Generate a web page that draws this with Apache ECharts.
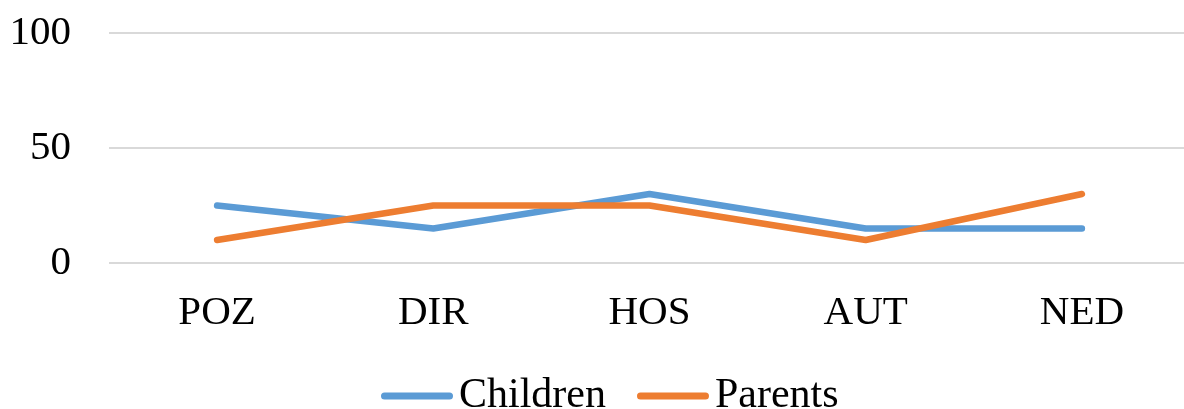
<!DOCTYPE html>
<html>
<head>
<meta charset="utf-8">
<script src="https://cdn.jsdelivr.net/npm/echarts@6/dist/echarts.min.js"></script>
<style>
  html, body { margin: 0; padding: 0; background: #fff; overflow: hidden; }
  /* a bit wider than the window: the plot area runs past the right edge */
  #chart { width: 1200px; height: 409px; }
</style>
</head>
<body>
<div id="chart"></div>
<script>
const categories = ["POZ", "DIR", "HOS", "AUT", "NED"];
const children = [25, 15, 30, 15, 15];
const parents = [10, 25, 25, 10, 30];

const font = "'Liberation Serif', 'Times New Roman', serif";
const capsule = "path://M3.5,0 H68.5 A3.5,3.5 0 0 1 68.5,7 H3.5 A3.5,3.5 0 0 1 3.5,0 Z";

const myChart = echarts.init(document.getElementById("chart"));

myChart.setOption({
  animation: false,
  textStyle: { fontFamily: font },
  grid: { left: 109, top: 33, width: 1081, height: 230 },
  legend: {
    left: 376,
    top: 370,
    itemWidth: 74,
    itemHeight: 7,
    itemGap: 31,
    textStyle: { fontFamily: font, fontSize: 42, color: "#000" },
    data: [
      { name: "Children", icon: capsule },
      { name: "Parents", icon: capsule },
    ],
  },
  xAxis: {
    type: "category",
    data: categories,
    axisLine: { show: false },
    axisTick: { show: false },
    axisLabel: { fontFamily: font, fontSize: 41, color: "#000", margin: 30 },
  },
  yAxis: {
    type: "value",
    min: 0,
    max: 100,
    interval: 50,
    axisLine: { show: false },
    axisTick: { show: false },
    axisLabel: { fontFamily: font, fontSize: 41, color: "#000", margin: 38 },
    splitLine: { lineStyle: { color: "#d9d9d9", width: 2 } },
  },
  series: [
    {
      name: "Children",
      type: "line",
      data: children,
      symbol: "none",
      color: "#5b9bd5",
      lineStyle: { width: 6.5, cap: "round", join: "round" },
    },
    {
      name: "Parents",
      type: "line",
      data: parents,
      symbol: "none",
      color: "#ed7d31",
      lineStyle: { width: 6.5, cap: "round", join: "round" },
    },
  ],
});
</script>
</body>
</html>
